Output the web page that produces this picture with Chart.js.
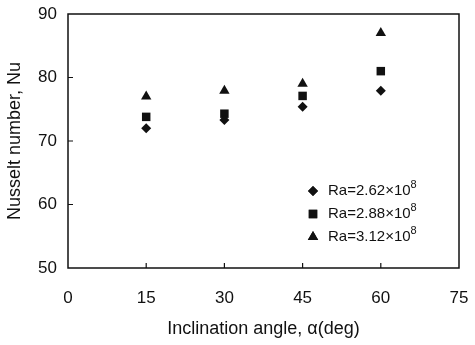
<!DOCTYPE html>
<html lang="en">
<head>
  <meta charset="UTF-8">
  <title>Nusselt number vs inclination angle</title>
  <script src="https://cdn.jsdelivr.net/npm/chart.js@4.4.0/dist/chart.umd.min.js"></script>
  <style>
    html, body { margin: 0; padding: 0; background: #fff; }
    #wrap { width: 475px; height: 345px; }
  </style>
</head>
<body>
  <div id="wrap"><canvas id="myChart" width="475" height="345"></canvas></div>

  <script>
    // inclination angles (deg)
    const angles = [15, 30, 45, 60];
    // Nusselt number for each Rayleigh number
    const nu_262 = [72.0, 73.3, 75.4, 77.9];
    const nu_288 = [73.8, 74.3, 77.1, 81.0];
    const nu_312 = [77.0, 77.9, 79.0, 87.0];
    const seriesLabels = ['Ra=2.62×10⁸', 'Ra=2.88×10⁸', 'Ra=3.12×10⁸'];
    const xTicks = [0, 15, 30, 45, 60, 75];
    const yTicks = [50, 60, 70, 80, 90];

    const FONT = 'Liberation Sans, Arial, sans-serif';
    const SUP = '⁰¹²³⁴⁵⁶⁷⁸⁹';

    function points(ys) {
      return angles.map((a, i) => ({x: a, y: ys[i]}));
    }

    // box round the plot area with short inward ticks
    const frame = {
      id: 'frame',
      afterDraw(chart) {
        const {ctx, chartArea: a, scales} = chart;
        ctx.save();
        ctx.strokeStyle = '#111';
        ctx.lineWidth = 1.5;
        ctx.strokeRect(a.left, a.top, a.right - a.left, a.bottom - a.top);
        ctx.lineWidth = 1.2;
        ctx.beginPath();
        scales.x.ticks.forEach(t => {
          if (t.value <= scales.x.min || t.value >= scales.x.max) return;
          const px = scales.x.getPixelForValue(t.value);
          ctx.moveTo(px, a.bottom);
          ctx.lineTo(px, a.bottom - 5);
        });
        scales.y.ticks.forEach(t => {
          if (t.value <= scales.y.min || t.value >= scales.y.max) return;
          const py = scales.y.getPixelForValue(t.value);
          ctx.moveTo(a.left, py);
          ctx.lineTo(a.left + 5, py);
        });
        ctx.stroke();
        ctx.restore();
      }
    };

    // legend sitting inside the plot, lower right
    const insideLegend = {
      id: 'insideLegend',
      afterDraw(chart) {
        const {ctx, chartArea: a} = chart;
        const x0 = a.left + 245;
        const y0 = a.bottom - 77;
        ctx.save();
        ctx.textBaseline = 'middle';
        ctx.fillStyle = '#111';
        ctx.strokeStyle = '#111';
        chart.data.datasets.forEach((ds, i) => {
          const y = y0 + i * 23;
          Chart.helpers.drawPoint(ctx, {
            pointStyle: ds.pointStyle,
            radius: ds.pointRadius,
            borderWidth: 0,
            rotation: 0
          }, x0, y);
          ctx.fill();
          // split off the superscript exponent and draw it raised
          let base = ds.label, exp = '';
          while (base.length && SUP.includes(base[base.length - 1])) {
            exp = SUP.indexOf(base[base.length - 1]) + exp;
            base = base.slice(0, -1);
          }
          ctx.font = '15px ' + FONT;
          ctx.fillText(base, x0 + 15, y);
          const w = ctx.measureText(base).width;
          ctx.font = '11px ' + FONT;
          ctx.fillText(exp, x0 + 15 + w, y - 6);
        });
        ctx.restore();
      }
    };

    const ctx = document.getElementById('myChart').getContext('2d');
    const myChart = new Chart(ctx, {
      type: 'scatter',
      data: {
        datasets: [{
          label: seriesLabels[0],
          data: points(nu_262),
          pointStyle: 'rectRot',
          pointRadius: 5,
          backgroundColor: '#111',
          borderColor: '#111',
          borderWidth: 0
        }, {
          label: seriesLabels[1],
          data: points(nu_288),
          pointStyle: 'rect',
          pointRadius: 6,
          backgroundColor: '#111',
          borderColor: '#111',
          borderWidth: 0
        }, {
          label: seriesLabels[2],
          data: points(nu_312),
          pointStyle: 'triangle',
          pointRadius: 6,
          backgroundColor: '#111',
          borderColor: '#111',
          borderWidth: 0
        }]
      },
      options: {
        responsive: false,
        animation: false,
        layout: { autoPadding: false, padding: { left: 0, right: 16, top: 14, bottom: 0 } },
        plugins: {
          legend: { display: false },
          tooltip: { enabled: false }
        },
        scales: {
          x: {
            type: 'linear',
            min: 0,
            max: 75,
            afterBuildTicks: s => { s.ticks = xTicks.map(v => ({value: v})); },
            grid: { display: false, drawTicks: false },
            border: { display: false },
            ticks: { color: '#111', font: { family: FONT, size: 17 }, padding: 20, maxRotation: 0 },
            title: {
              display: true,
              text: 'Inclination angle, α(deg)',
              color: '#111',
              font: { family: FONT, size: 18 },
              padding: { top: 0, bottom: 5 }
            },
            afterFit: s => {
              s.height = 77;
              s.paddingLeft = 0;
              s.paddingRight = 0;
            }
          },
          y: {
            type: 'linear',
            min: 50,
            max: 90,
            afterBuildTicks: s => { s.ticks = yTicks.map(v => ({value: v})); },
            grid: { display: false, drawTicks: false },
            border: { display: false },
            ticks: { color: '#111', font: { family: FONT, size: 17 }, padding: 11 },
            title: {
              display: true,
              text: 'Nusselt number, Nu',
              color: '#111',
              font: { family: FONT, size: 18 },
              padding: { top: 4, bottom: 0 }
            },
            afterFit: s => {
              s.width = 68;
              s.paddingTop = 0;
              s.paddingBottom = 0;
            }
          }
        }
      },
      plugins: [frame, insideLegend]
    });
  </script>
</body>
</html>
